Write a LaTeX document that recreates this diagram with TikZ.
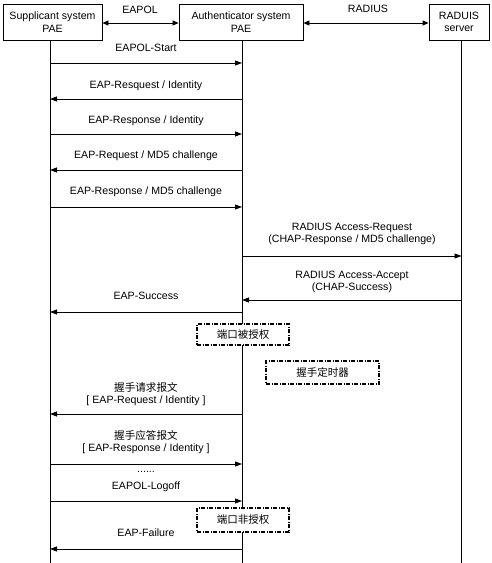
\documentclass[tikz,border=0pt]{standalone}
\usepackage{fontspec}
\setmainfont{Liberation Sans}
\newfontfamily\cjk{Noto Sans CJK SC}
\usetikzlibrary{arrows.meta}
\tikzset{
  ent/.style={draw,thick,align=center,inner sep=1pt,font=\fontsize{10.6}{12.5}\selectfont},
  msg/.style={-{Triangle[length=7pt,width=5pt]},thick},
  link/.style={{Triangle[length=6pt,width=5pt]}-{Triangle[length=6pt,width=5pt]},thick},
  lbl/.style={align=center,inner sep=0pt,font=\fontsize{10.6}{12.5}\selectfont},
  state/.style={draw,line width=1.4pt,dash pattern=on 4pt off 1.5pt on 1pt off 1.5pt,inner sep=0pt,font=\cjk\fontsize{10.5}{12}\selectfont}
}
\begin{document}
\begin{tikzpicture}[x=1pt,y=-1pt]
  \useasboundingbox (0,0) rectangle (491,563);

  % Entities
  \node[ent,minimum width=99,minimum height=36] (sup) at (52.5,22) {Supplicant system\\PAE};
  \node[ent,minimum width=124,minimum height=36] (auth) at (241,22) {Authenticator system\\PAE};
  \node[ent,minimum width=60,minimum height=36] (srv) at (459,22) {RADUIS\\server};

  % Lifelines
  \coordinate (sl) at (50,40);
  \coordinate (al) at (242,40);
  \coordinate (rl) at (461.5,40);
  \draw[thick] (sl) -- (sl |- 0,563);
  \draw[thick] (al) -- (al |- 0,563);
  \draw[thick] (rl) -- (rl |- 0,563);

  % Protocols between entities
  \draw[link] (sup.east |- 0,23) -- (auth.west |- 0,23);
  \node[lbl] (eapol) at (140,10) {EAPOL};
  \draw[link] (auth.east |- 0,23) -- (srv.west |- 0,23);
  \node[lbl] (radius) at (368,9) {RADIUS};

  % EAP exchange
  \node[lbl] (m1) at (146,48) {EAPOL-Start};
  \draw[msg] (sl |- 0,63) -- (al |- 0,63);
  \node[lbl] (m2) at (146,86) {EAP-Resquest / Identity};
  \draw[msg] (al |- 0,99) -- (sl |- 0,99);
  \node[lbl] (m3) at (146,121) {EAP-Response / Identity};
  \draw[msg] (sl |- 0,134) -- (al |- 0,134);
  \node[lbl] (m4) at (146,156) {EAP-Request / MD5 challenge};
  \draw[msg] (al |- 0,170) -- (sl |- 0,170);
  \node[lbl] (m5) at (146,192) {EAP-Response / MD5 challenge};
  \draw[msg] (sl |- 0,207) -- (al |- 0,207);

  % RADIUS exchange
  \node[lbl] (m6) at (352,234) {RADIUS Access-Request\\(CHAP-Response / MD5 challenge)};
  \draw[msg] (al |- 0,256) -- (rl |- 0,256);
  \node[lbl] (m7) at (352,282) {RADIUS Access-Accept\\(CHAP-Success)};
  \draw[msg] (rl |- 0,300) -- (al |- 0,300);
  \node[lbl] (m8) at (146,296) {EAP-Success};
  \draw[msg] (al |- 0,312) -- (sl |- 0,312);

  % Port states
  \node[state,fill=white,minimum width=92,minimum height=21] (auth1) at (243,334.5) {端口被授权};
  \node[state,minimum width=113,minimum height=23] (timer) at (322.5,372.5) {握手定时器};

  % Handshake
  \node[lbl] (m9) at (146,394) {{\cjk 握手请求报文}\\{[} EAP-Request / Identity ]};
  \draw[msg] (al |- 0,414) -- (sl |- 0,414);
  \node[lbl] (m10) at (146,442) {{\cjk 握手应答报文}\\{[} EAP-Response / Identity ]};
  \draw[msg] (sl |- 0,464) -- (al |- 0,464);
  \node[lbl] (dots) at (146,472) {......};
  \node[lbl] (m11) at (146,487) {EAPOL-Logoff};
  \draw[msg] (sl |- 0,501) -- (al |- 0,501);
  \node[state,fill=white,minimum width=92,minimum height=24] (auth2) at (243,520) {端口非授权};
  \node[lbl] (m12) at (146,533) {EAP-Failure};
  \draw[msg] (al |- 0,549) -- (sl |- 0,549);
\end{tikzpicture}
\end{document}
